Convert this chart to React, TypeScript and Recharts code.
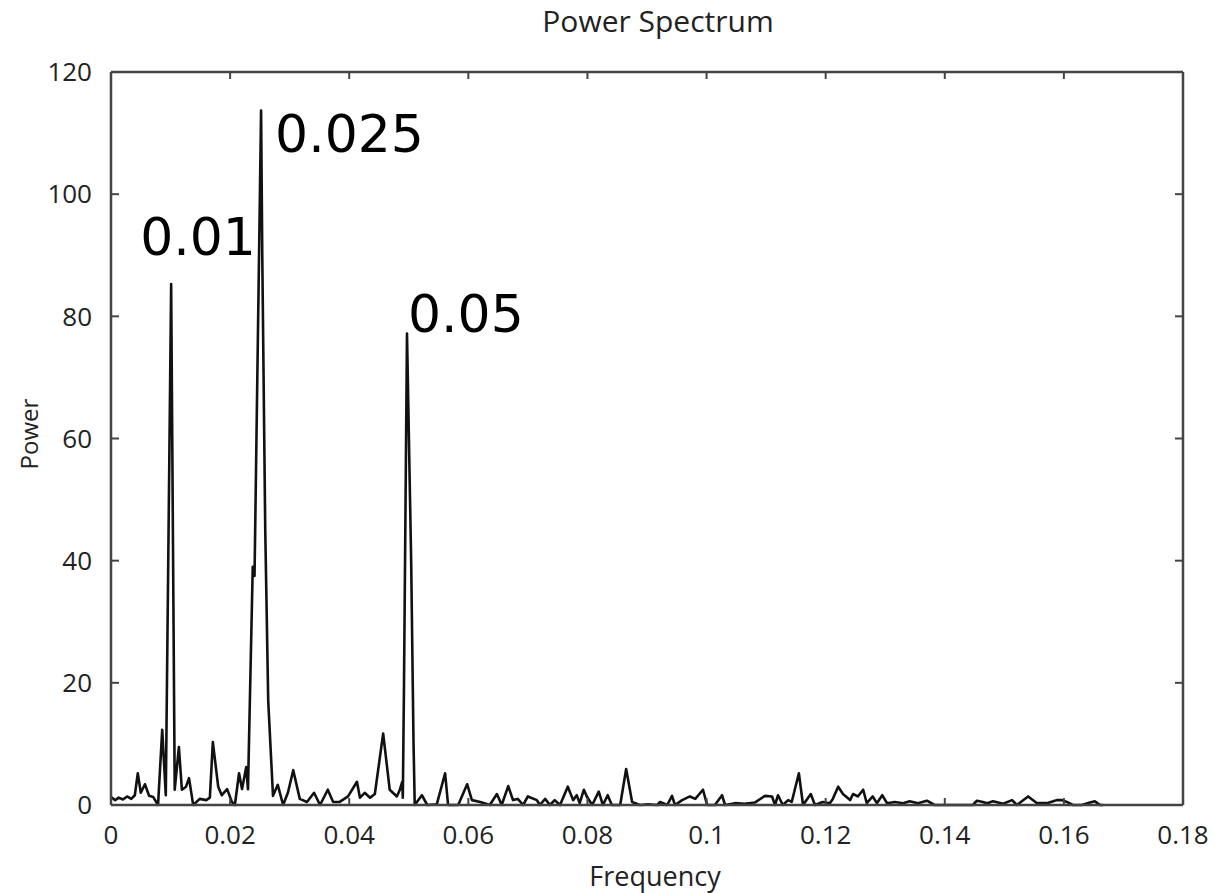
import { LineChart, Line, XAxis, YAxis, ReferenceDot } from "recharts"

// frequency / power
const frequency = [
  0, 0.0007, 0.0013, 0.002, 0.0027, 0.0034, 0.004, 0.0045, 0.005, 0.0057,
  0.0064, 0.0071, 0.0079, 0.0086, 0.0092, 0.0101, 0.0107, 0.0114, 0.0119, 0.0126,
  0.0131, 0.0138, 0.0149, 0.016, 0.0166, 0.0171, 0.018, 0.0186, 0.0195, 0.0203,
  0.0208, 0.0215, 0.022, 0.0227, 0.023, 0.0238, 0.0241, 0.0252, 0.0254, 0.0259,
  0.0264, 0.0272, 0.028, 0.0289, 0.0297, 0.0306, 0.0317, 0.0329, 0.0341, 0.0351,
  0.0364, 0.0373, 0.0384, 0.0398, 0.0413, 0.0418, 0.0426, 0.0435, 0.0443, 0.0457,
  0.0468, 0.048, 0.0485, 0.0489, 0.049, 0.0492, 0.0497, 0.0504, 0.0508, 0.051,
  0.0522, 0.0531, 0.0547, 0.0561, 0.0566, 0.0583, 0.0598, 0.0606, 0.062, 0.0636,
  0.0648, 0.0656, 0.0667, 0.0675, 0.0683, 0.0692, 0.07, 0.0715, 0.072, 0.0729,
  0.0737, 0.0745, 0.0754, 0.0767, 0.0776, 0.0782, 0.0787, 0.0794, 0.0799, 0.0808,
  0.0819, 0.0826, 0.0834, 0.0841, 0.0855, 0.0865, 0.0875, 0.0888, 0.0902, 0.0917,
  0.0922, 0.0934, 0.0942, 0.0947, 0.0959, 0.0972, 0.0981, 0.0994, 0.1001, 0.1014,
  0.1026, 0.1031, 0.1048, 0.1064, 0.1081, 0.1098, 0.111, 0.1115, 0.112, 0.1128,
  0.1137, 0.1143, 0.1155, 0.1162, 0.1175, 0.1182, 0.1195, 0.1207, 0.1212, 0.1221,
  0.1229, 0.1241, 0.1246, 0.1254, 0.1263, 0.1269, 0.1279, 0.1286, 0.1295, 0.1303,
  0.1316, 0.133, 0.1341, 0.1355, 0.137, 0.1383, 0.14, 0.1417, 0.1434, 0.1447,
  0.1454, 0.1464, 0.1471, 0.1481, 0.1498, 0.1513, 0.1521, 0.154, 0.1555, 0.1572,
  0.1582, 0.1588, 0.1597, 0.1605, 0.1615, 0.163, 0.1644, 0.1652, 0.1661, 0.1666,
]

const power = [
  1.3, 0.8, 1.2, 0.9, 1.4, 1.0, 1.6, 5.2, 2.0, 3.4,
  1.5, 1.3, 0, 12.3, 1.6, 85.3, 2.5, 9.5, 2.5, 3.0,
  4.4, 0, 1.0, 0.8, 1.2, 10.3, 3.0, 1.6, 2.6, 0.5,
  0, 5.2, 2.6, 6.2, 2.6, 39, 37.5, 113.7, 90, 45,
  17, 1.5, 3.3, 0, 2.0, 5.7, 1.0, 0.5, 2.0, 0,
  2.5, 0.5, 0.5, 1.4, 3.8, 1.2, 2.0, 1.2, 1.8, 11.7,
  2.5, 1.4, 2.5, 3.8, 1.2, 20, 77.2, 40, 10, 0,
  1.6, 0, 0.1, 5.2, 0, 0, 3.4, 0.8, 0.5, 0,
  1.8, 0, 3.1, 0.8, 1.0, 0, 1.4, 0.8, 0, 1.0,
  0, 0.8, 0, 3.0, 0.8, 1.6, 0.3, 2.5, 1.4, 0,
  2.2, 0, 1.6, 0, 0, 5.9, 0.5, 0, 0.1, 0,
  0.5, 0, 1.5, 0, 0.8, 1.4, 1.0, 2.5, 0, 0,
  1.6, 0, 0.3, 0.2, 0.4, 1.5, 1.4, 0, 1.6, 0,
  0.8, 0.5, 5.2, 0, 1.8, 0, 0.5, 0.3, 1.0, 3.0,
  1.8, 0.8, 1.8, 1.4, 2.5, 0.3, 1.4, 0.3, 1.6, 0.3,
  0.5, 0.3, 0.6, 0.3, 0.7, 0, 0, 0, 0, 0,
  0.7, 0.5, 0.3, 0.6, 0.2, 0.8, 0, 1.4, 0.3, 0.3,
  0.6, 0.8, 0.8, 0.5, 0, 0, 0.4, 0.6, 0, 0,
]

const xTicks = [0, 0.02, 0.04, 0.06, 0.08, 0.1, 0.12, 0.14, 0.16, 0.18]
const yTicks = [0, 20, 40, 60, 80, 100, 120]

const peakNames = ["0.01", "0.025", "0.05"]
const peakFreq = [0.0101, 0.0252, 0.0497]
const peakPower = [85.3, 113.7, 77.2]

const data = frequency.map((f, i) => ({ f, p: power[i] }))

const frame = "#444"
const labelColor = "#222"
const X_MARGIN = 21
const Y_MARGIN = 19

// label offsets from the peak tip, in px
const peakOffset: Record<string, [number, number]> = {
  "0.01": [-31, -29],
  "0.025": [14, 42],
  "0.05": [1, -1],
}

// bottom tick: label below, tick mark pointing into the plot
function XTick(props: any) {
  const { x, y, payload } = props
  const axisY = y - X_MARGIN
  return (
    <g>
      <line x1={x} x2={x} y1={axisY} y2={axisY - 7} stroke={frame} strokeWidth={2} />
      <text x={x} y={y} dy="0.71em" textAnchor="middle" fill={labelColor}
        fontSize={26} fontFamily="Open Sans">
        {String(payload.value)}
      </text>
    </g>
  )
}

function YTick(props: any) {
  const { x, y, payload } = props
  const axisX = x + Y_MARGIN
  return (
    <g>
      <line x1={axisX} x2={axisX + 8} y1={y} y2={y} stroke={frame} strokeWidth={2} />
      <text x={x} y={y} dy="0.355em" textAnchor="end" fill={labelColor}
        fontSize={26} fontFamily="Open Sans">
        {String(payload.value)}
      </text>
    </g>
  )
}

export default function App() {
  return (
    <div style={{ position: "relative", width: 1215, height: 893, background: "#fff" }}>
      <style>{"body{margin:0}"}</style>
      <div
        style={{
          position: "absolute", top: 6, left: 0, width: 1316, textAlign: "center",
          fontFamily: "Open Sans", fontSize: 30, lineHeight: 1, color: labelColor,
        }}
      >
        Power Spectrum
      </div>
      <LineChart
        width={1215}
        height={893}
        data={data}
        margin={{ top: 72, right: 32, bottom: 28, left: 51 }}
      >
        <XAxis
          dataKey="f"
          type="number"
          domain={[0, 0.18]}
          ticks={xTicks}
          interval={0}
          height={60}
          tickSize={0}
          tickMargin={X_MARGIN}
          tickLine={false}
          tick={XTick}
          axisLine={{ stroke: frame, strokeWidth: 2.5 }}
        />
        <XAxis
          xAxisId="top"
          orientation="top"
          dataKey="f"
          type="number"
          domain={[0, 0.18]}
          ticks={xTicks}
          interval={0}
          height={30}
          mirror
          tickSize={7}
          tickFormatter={() => ""}
          axisLine={{ stroke: frame, strokeWidth: 2.5 }}
          tickLine={{ stroke: frame, strokeWidth: 2 }}
        />
        <YAxis
          type="number"
          domain={[0, 120]}
          ticks={yTicks}
          interval={0}
          width={60}
          tickSize={0}
          tickMargin={Y_MARGIN}
          tickLine={false}
          tick={YTick}
          axisLine={{ stroke: frame, strokeWidth: 2.5 }}
        />
        <YAxis
          yAxisId="right"
          orientation="right"
          type="number"
          domain={[0, 120]}
          ticks={yTicks}
          interval={0}
          width={30}
          mirror
          tickSize={8}
          tickFormatter={() => ""}
          axisLine={{ stroke: frame, strokeWidth: 2.5 }}
          tickLine={{ stroke: frame, strokeWidth: 2 }}
        />
        {/* invisible copy so the top / right frame axes have a series */}
        <Line
          xAxisId="top"
          yAxisId="right"
          dataKey="p"
          stroke="none"
          dot={false}
          activeDot={false}
          legendType="none"
          isAnimationActive={false}
        />
        <Line
          type="linear"
          dataKey="p"
          stroke="#111"
          strokeWidth={2.6}
          dot={false}
          activeDot={false}
          strokeLinejoin="round"
          isAnimationActive={false}
        />
        {peakNames.map((name, i) => (
          <ReferenceDot
            key={name}
            x={peakFreq[i]}
            y={peakPower[i]}
            r={1}
            fill="none"
            stroke="none"
            label={(props: any) => {
              const vb = props.viewBox || { x: 0, y: 0 }
              const [dx, dy] = peakOffset[name]
              return (
                <text
                  x={vb.x + 1 + dx}
                  y={vb.y + 1 + dy}
                  fontFamily="DejaVu Sans"
                  fontSize={52}
                  fill="#000"
                >
                  {name}
                </text>
              )
            }}
          />
        ))}
      </LineChart>
      <div
        style={{
          position: "absolute", top: 862, left: 0, width: 1310, textAlign: "center",
          fontFamily: "Open Sans", fontSize: 27, lineHeight: 1, color: labelColor,
        }}
      >
        Frequency
      </div>
      <div
        style={{
          position: "absolute", left: 29, top: 434, fontFamily: "Open Sans", fontSize: 24,
          lineHeight: 1, color: labelColor, transform: "translate(-50%, -50%) rotate(-90deg)",
          whiteSpace: "nowrap",
        }}
      >
        Power
      </div>
    </div>
  )
}
